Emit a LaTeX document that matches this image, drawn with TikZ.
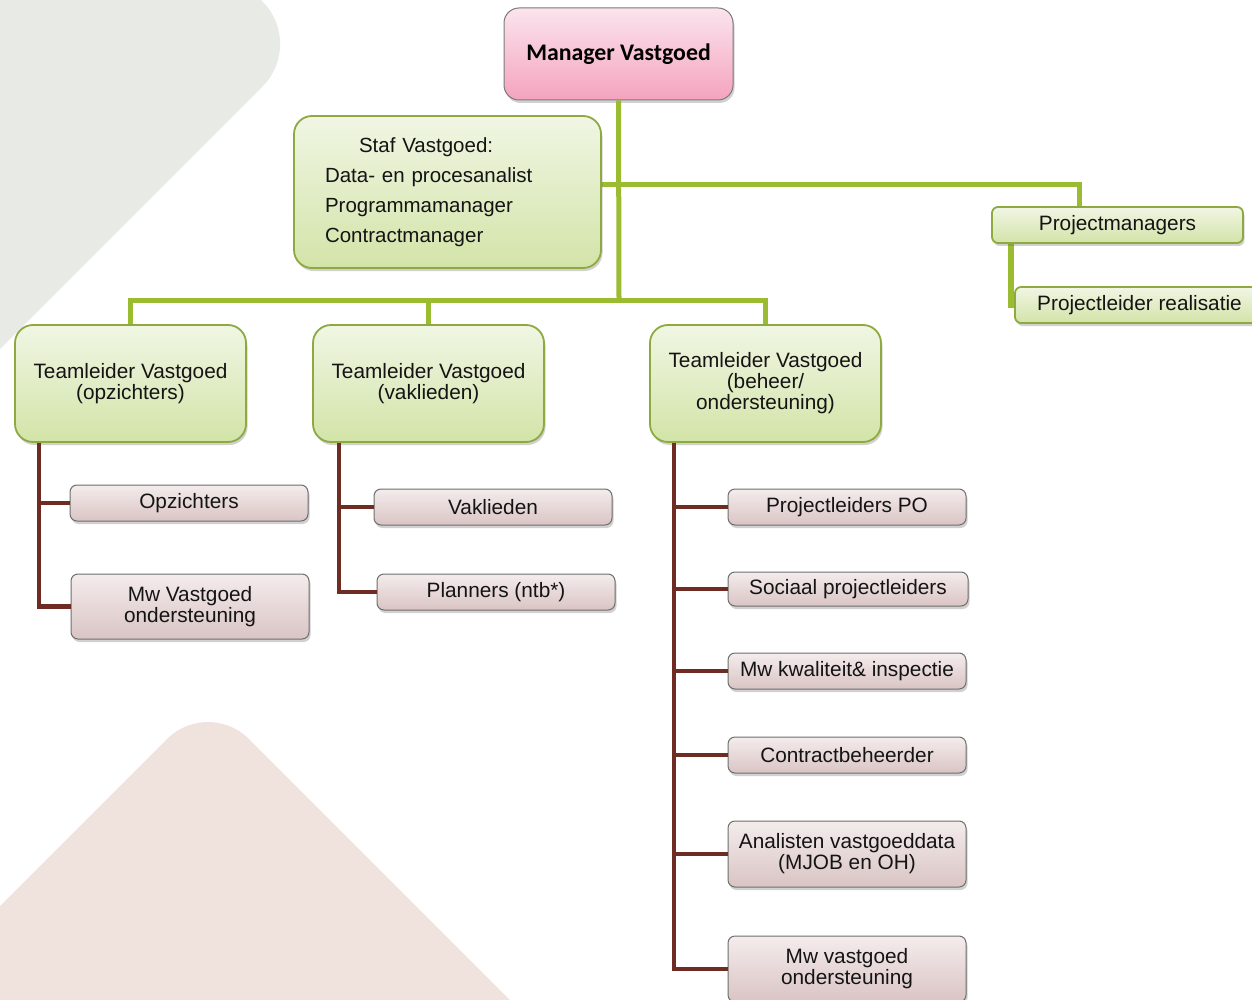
\documentclass[tikz,border=0pt]{standalone}
\usepackage{fontspec}
\setmainfont{Liberation Sans}
\newfontfamily\mgrfont{Carlito}
\usetikzlibrary{shadows,calc}
\definecolor{gtop}{HTML}{F0F6E4}
\definecolor{gbot}{HTML}{D3E4A8}
\definecolor{gborder}{HTML}{8EAA3E}
\definecolor{ptop}{HTML}{FBE4ED}
\definecolor{pbot}{HTML}{F4A3BE}
\definecolor{pborder}{HTML}{7A7A7A}
\definecolor{btop}{HTML}{F4ECEC}
\definecolor{bbot}{HTML}{DAC4C4}
\definecolor{bborder}{HTML}{6E6E6E}
\definecolor{gline}{HTML}{9BBB30}
\definecolor{bline}{HTML}{6E2C22}
\definecolor{bggray}{HTML}{E8EAE5}
\definecolor{bgbeige}{HTML}{F0E2DC}
\definecolor{txt}{HTML}{141414}
\tikzset{
  shad/.style={drop shadow={shadow xshift=1.5pt,shadow yshift=-3pt,opacity=0.3,fill=black!60}},
  gbox/.style={draw=gborder,line width=1.8pt,rounded corners=18pt,top color=gtop,bottom color=gbot,
    align=center,inner sep=0pt,text=txt,font=\fontsize{20.8}{21}\selectfont,shad},
  gsmall/.style={gbox,rounded corners=6pt},
  bbox/.style={draw=bborder,line width=1pt,rounded corners=7pt,top color=btop,bottom color=bbot,
    align=center,inner sep=0pt,text=txt,font=\fontsize{20.8}{21}\selectfont,shad},
  pbox/.style={draw=pborder,line width=1pt,rounded corners=15pt,top color=ptop,bottom color=pbot,
    align=center,inner sep=0pt,text=black,font=\mgrfont\bfseries\fontsize{23.8}{26}\selectfont,shad},
  gconn/.style={draw=gline,line width=5pt},
  bconn/.style={draw=bline,line width=4.5pt},
}
\begin{document}
\begin{tikzpicture}[x=1pt,y=-1pt]
\useasboundingbox (0,0) rectangle (1252,1000);
\clip (0,0) rectangle (1252,1000);
% background shapes
\fill[bggray,rounded corners=60pt] (-400,-400) -- (-400,749) -- (305,44) -- (0,-261) -- (-400,-261) -- cycle;
\fill[bgbeige,rounded corners=58pt] (-300,1206) -- (208,698) -- (620,1110) -- (-300,1110) -- cycle;
% coordinates for connectors
\coordinate (bus) at (619,300);
\coordinate (j1) at (619,185);
\coordinate (pmdrop) at (1079,185);
\coordinate (pmx) at (1011,0);
\coordinate (ax) at (39,0);
\coordinate (bx) at (339,0);
\coordinate (cx) at (674,0);
% node centres
\path
  (618.5,54) coordinate (mgrC)
  (447.5,192) coordinate (stafC)
  (1117.5,225) coordinate (pmC)
  (1139.5,305) coordinate (plC)
  (130.5,383.5) coordinate (tlAC)
  (428.5,383.5) coordinate (tlBC)
  (765.5,383.5) coordinate (tlCC);
\path (pmC) ++(0,18) coordinate (pmS);
\path (pmC) ++(0,-18) coordinate (pmN);
\path (tlAC) ++(0,-58.5) coordinate (tlAN);
\path (tlBC) ++(0,-58.5) coordinate (tlBN);
\path (tlCC) ++(0,-58.5) coordinate (tlCN);
\path (stafC) ++(153.5,0) coordinate (stafE);
% boxes and connectors
\node[pbox,minimum width=229pt,minimum height=92pt] (mgr) at (mgrC) {Manager Vastgoed};
\draw[gconn] (mgr.south) -- (bus);
\draw[gconn] (tlAN) -- (tlAN |- bus) -- (tlCN |- bus) -- (tlCN);
\draw[gconn] (tlBN) -- (tlBN |- bus);
\draw[gconn] (stafE |- j1) -- (pmdrop) -- (pmdrop |- pmN);
\draw[gconn,line width=6pt] (pmS -| pmx) |- (plC);
\node[gbox,minimum width=307pt,minimum height=152pt,align=left,text width=245pt,
  font=\fontsize{20.5}{30}\selectfont] (staf) at (stafC)
  {\hspace*{34pt}Staf Vastgoed:\\Data- en procesanalist\\Programmamanager\\Contractmanager};
\node[gsmall,minimum width=251pt,minimum height=36pt] (pm) at (pmC) {Projectmanagers};
\node[gsmall,minimum width=249pt,minimum height=36pt] (pl) at (plC) {Projectleider realisatie};
\node[gbox,minimum width=231pt,minimum height=117pt] (tlA) at (tlAC) {Teamleider Vastgoed\\(opzichters)};
\node[gbox,minimum width=231pt,minimum height=117pt] (tlB) at (tlBC) {Teamleider Vastgoed\\(vaklieden)};
\node[gbox,minimum width=231pt,minimum height=117pt] (tlC) at (tlCC) {Teamleider Vastgoed\\(beheer/\\ondersteuning)};
% brown subtree boxes
\node[bbox,minimum width=238pt,minimum height=36pt] (opz) at (189,503) {Opzichters};
\node[bbox,minimum width=238pt,minimum height=65pt] (mw1) at (190,606.5) {Mw Vastgoed\\ondersteuning};
\node[bbox,minimum width=238pt,minimum height=36pt] (vak) at (493,507) {Vaklieden};
\node[bbox,minimum width=238pt,minimum height=36pt] (pln) at (496,592) {Planners (ntb*)};
\node[bbox,minimum width=238pt,minimum height=36pt] (ppo) at (847,507) {Projectleiders PO};
\node[bbox,minimum width=240pt,minimum height=34pt] (soc) at (848,589) {Sociaal projectleiders};
\node[bbox,minimum width=238pt,minimum height=36pt] (kwa) at (847,671) {Mw kwaliteit\& inspectie};
\node[bbox,minimum width=238pt,minimum height=36pt] (con) at (847,755) {Contractbeheerder};
\node[bbox,minimum width=238pt,minimum height=66pt] (ana) at (847,854) {Analisten vastgoeddata\\(MJOB en OH)};
\node[bbox,minimum width=238pt,minimum height=66pt] (mw2) at (847,969) {Mw vastgoed\\ondersteuning};
% brown connectors
\draw[bconn] (tlA.south -| ax) |- (opz.west);
\draw[bconn] (tlA.south -| ax) |- (mw1.west);
\draw[bconn] (tlB.south -| bx) |- (vak.west);
\draw[bconn] (tlB.south -| bx) |- (pln.west);
\foreach \n in {ppo,soc,kwa,con,ana,mw2}{
  \draw[bconn] (tlC.south -| cx) |- (\n.west);
}
\end{tikzpicture}
\end{document}
